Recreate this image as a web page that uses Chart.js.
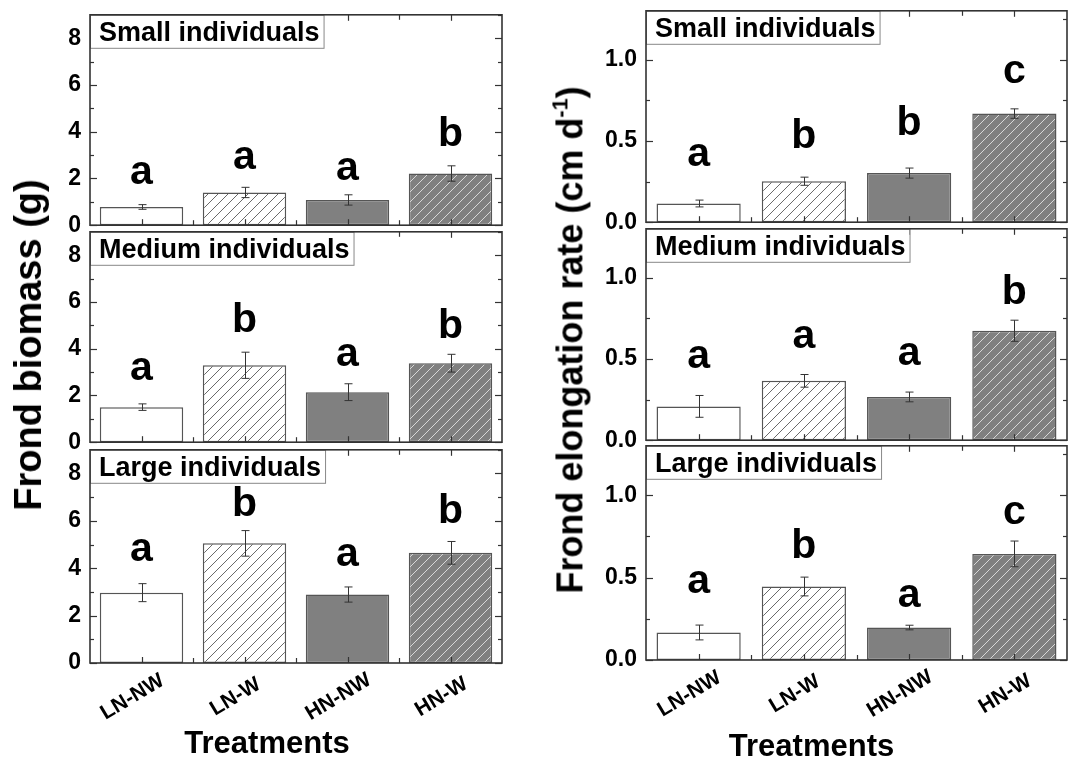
<!DOCTYPE html>
<html>
<head>
<meta charset="utf-8">
<script src="https://cdn.jsdelivr.net/npm/chart.js@4.4.1/dist/chart.umd.min.js"></script>
<style>
body { margin: 0; background: #fff; font-family: "Liberation Sans", Arial, sans-serif; }
#wrap { position: relative; width: 1071px; height: 765px; overflow: hidden; background: #fff; }
canvas { position: absolute; }
.ytitle { position: absolute; font-weight: bold; white-space: nowrap; color: #000;
  transform: translate(-50%, -50%) rotate(-90deg); line-height: 1; }
.ytitle sup { font-size: 0.6em; vertical-align: 0.7em; }
</style>
</head>
<body>
<div id="wrap">
  <canvas id="bm0"></canvas><canvas id="bm1"></canvas><canvas id="bm2"></canvas>
  <canvas id="el0"></canvas><canvas id="el1"></canvas><canvas id="el2"></canvas>
  <div class="ytitle" style="left:28px;top:345px;font-size:38px;">Frond biomass (g)</div>
  <div class="ytitle" style="left:569px;top:340px;font-size:36px;">Frond elongation rate (cm d<sup>-1</sup>)</div>
</div>
<script>
const treatments = ["LN-NW", "LN-W", "HN-NW", "HN-W"];
const sizeTitles = ["Small individuals", "Medium individuals", "Large individuals"];

// frond biomass (g), mean and SE
const biomassSmall = [0.78, 1.40, 1.08, 2.21];
const biomassSmallErr = [0.10, 0.22, 0.22, 0.33];
const biomassMedium = [1.50, 3.29, 2.14, 3.38];
const biomassMediumErr = [0.14, 0.56, 0.36, 0.38];
const biomassLarge = [2.97, 5.05, 2.89, 4.65];
const biomassLargeErr = [0.38, 0.54, 0.32, 0.48];

// frond elongation rate (cm d-1), mean and SE
const elongSmall = [0.115, 0.252, 0.302, 0.668];
const elongSmallErr = [0.021, 0.025, 0.031, 0.029];
const elongMedium = [0.208, 0.365, 0.266, 0.673];
const elongMediumErr = [0.067, 0.039, 0.030, 0.065];
const elongLarge = [0.167, 0.446, 0.197, 0.644];
const elongLargeErr = [0.045, 0.057, 0.014, 0.078];

// significance letters and the value where each letter sits
const biomassLetters = [["a","a","a","b"], ["a","b","a","b"], ["a","b","a","b"]];
const biomassLetterY = [[1.76, 2.42, 1.93, 3.39], [2.64, 4.72, 3.26, 4.45], [4.29, 6.21, 4.08, 5.89]];
const elongLetters = [["a","b","b","c"], ["a","a","a","b"], ["a","b","a","c"]];
const elongLetterY = [[0.346, 0.457, 0.537, 0.859], [0.446, 0.565, 0.465, 0.835], [0.408, 0.617, 0.319, 0.827]];

const FONT = '"Liberation Sans", Arial, sans-serif';
const PAD = 20, AXW = 70;

const cols = {
  bm: { x: 90, w: 412, h: 216, tops: [12, 229, 447], max: 9, step: 2, minor: 1, dec: 0, barPct: 0.81, tdx: -29, tdy: 90,
        values: [biomassSmall, biomassMedium, biomassLarge], errs: [biomassSmallErr, biomassMediumErr, biomassLargeErr],
        letters: biomassLetters, letterY: biomassLetterY },
  el: { x: 646, w: 421, h: 217, tops: [8, 226, 443], max: 1.3, step: 0.5, minor: 0.25, dec: 1, barPct: 0.80, tdx: -45, tdy: 96,
        values: [elongSmall, elongMedium, elongLarge], errs: [elongSmallErr, elongMediumErr, elongLargeErr],
        letters: elongLetters, letterY: elongLetterY }
};

function hatch(bg, line) {
  const c = document.createElement('canvas');
  c.width = c.height = 10;
  const g = c.getContext('2d');
  g.fillStyle = bg; g.fillRect(0, 0, 10, 10);
  g.strokeStyle = line; g.lineWidth = 1;
  g.beginPath();
  g.moveTo(0, 10); g.lineTo(10, 0);
  g.moveTo(-1, 1); g.lineTo(1, -1);
  g.moveTo(9, 11); g.lineTo(11, 9);
  g.stroke();
  return g.createPattern(c, 'repeat');
}
const fills = ['#ffffff', hatch('#ffffff', '#6a6a6a'), '#808080', hatch('#808080', '#d8d8d8')];

function makeDecor(p) {
  return {
    id: 'decor',
    afterDatasetsDraw(chart) {
      const ctx = chart.ctx, a = chart.chartArea;
      const xs = chart.scales.x, ys = chart.scales.y;
      const n = p.values.length;
      const line = (x1, y1, x2, y2) => { ctx.beginPath(); ctx.moveTo(x1, y1); ctx.lineTo(x2, y2); ctx.stroke(); };
      ctx.save();

      // error bars
      ctx.strokeStyle = '#333'; ctx.lineWidth = 1;
      for (let i = 0; i < n; i++) {
        const x = Math.round(xs.getPixelForValue(i)) + 0.5;
        const yt = ys.getPixelForValue(p.values[i] + p.err[i]);
        const yb = ys.getPixelForValue(p.values[i] - p.err[i]);
        line(x, yt, x, yb);
        line(x - 4, yt, x + 4, yt);
        line(x - 4, yb, x + 4, yb);
      }

      // letters
      ctx.fillStyle = '#000';
      ctx.font = 'bold 41px ' + FONT;
      ctx.textAlign = 'center'; ctx.textBaseline = 'alphabetic';
      for (let i = 0; i < n; i++) {
        ctx.fillText(p.letters[i], xs.getPixelForValue(i), ys.getPixelForValue(p.letterY[i]));
      }

      // inward ticks
      ctx.strokeStyle = '#333'; ctx.lineWidth = 1.2;
      for (let v = 0; v <= p.max + 1e-9; v += p.minor) {
        const r = v / p.step;
        const len = Math.abs(r - Math.round(r)) < 1e-6 ? 7 : 4;
        const y = Math.round(ys.getPixelForValue(v)) + 0.5;
        line(a.left, y, a.left + len, y);
        line(a.right, y, a.right - len, y);
      }
      for (let i = 0; i < n; i++) {
        const x = Math.round(xs.getPixelForValue(i)) + 0.5;
        line(x, a.bottom, x, a.bottom - 6);
        line(x, a.top, x, a.top + 6);
        if (i < n - 1) {
          const xb = Math.round((xs.getPixelForValue(i) + xs.getPixelForValue(i + 1)) / 2) + 0.5;
          line(xb, a.bottom, xb, a.bottom - 5);
          line(xb, a.top, xb, a.top + 5);
        }
      }

      // panel title box
      ctx.font = 'bold 27px ' + FONT;
      const tw = ctx.measureText(p.title).width;
      ctx.fillStyle = '#fff';
      ctx.fillRect(a.left, a.top, tw + 13, 33);
      ctx.strokeStyle = '#888'; ctx.lineWidth = 1;
      ctx.strokeRect(a.left + 0.5, a.top + 0.5, tw + 13, 33);
      ctx.fillStyle = '#000'; ctx.textAlign = 'left';
      ctx.fillText(p.title, a.left + 9, a.top + 26);

      // frame
      ctx.strokeStyle = '#333'; ctx.lineWidth = 1.6;
      ctx.strokeRect(a.left, a.top, a.right - a.left, a.bottom - a.top);

      // category labels and axis title on the bottom row
      if (p.bottomRow) {
        ctx.font = 'bold 21px ' + FONT;
        ctx.textAlign = 'center'; ctx.textBaseline = 'middle';
        chart.data.labels.forEach((lab, i) => {
          ctx.save();
          ctx.translate(xs.getPixelForValue(i) - 9, a.bottom + 34);
          ctx.rotate(-31 * Math.PI / 180);
          ctx.fillText(lab, 0, 0);
          ctx.restore();
        });
        ctx.font = 'bold 31px ' + FONT;
        ctx.textBaseline = 'alphabetic';
        ctx.fillText('Treatments', (a.left + a.right) / 2 + p.tdx, a.bottom + p.tdy);
      }
      ctx.restore();
    }
  };
}

['bm', 'el'].forEach(key => {
  const c = cols[key];
  for (let row = 0; row < 3; row++) {
    const bottomRow = row === 2;
    const p = {
      title: sizeTitles[row], values: c.values[row], err: c.errs[row],
      letters: c.letters[row], letterY: c.letterY[row],
      max: c.max, step: c.step, minor: c.minor, bottomRow, tdx: c.tdx, tdy: c.tdy
    };
    const cv = document.getElementById(key + row);
    const padBottom = bottomRow ? 120 : PAD;
    cv.width = AXW + c.w + 6;
    cv.height = PAD + c.h + padBottom;
    cv.style.left = (c.x - AXW) + 'px';
    cv.style.top = (c.tops[row] - PAD) + 'px';
    new Chart(cv, {
      type: 'bar',
      data: {
        labels: treatments,
        datasets: [{
          data: c.values[row],
          backgroundColor: fills,
          borderColor: '#555',
          borderWidth: 1.5,
          borderSkipped: false,
          barPercentage: c.barPct,
          categoryPercentage: 1
        }]
      },
      options: {
        responsive: false, animation: false, devicePixelRatio: 1,
        layout: { padding: { left: 0, top: PAD, right: 6, bottom: padBottom } },
        plugins: { legend: { display: false }, tooltip: { enabled: false } },
        scales: {
          x: { display: false },
          y: {
            min: 0, max: c.max,
            afterFit(s) { s.width = AXW; },
            grid: { display: false, drawTicks: false },
            border: { display: false },
            ticks: {
              stepSize: c.step, includeBounds: false, padding: 9, color: '#000',
              font: { family: FONT, weight: 'bold', size: 23 },
              callback: v => Number(v).toFixed(c.dec)
            }
          }
        }
      },
      plugins: [makeDecor(p)]
    });
  }
});
</script>
</body>
</html>
